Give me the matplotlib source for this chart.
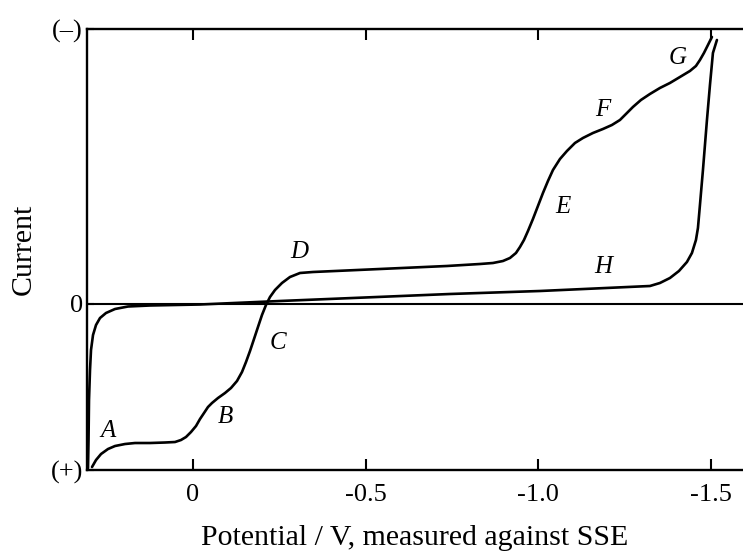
import matplotlib
matplotlib.use("Agg")
import matplotlib.pyplot as plt

# Sample polarogram (waves A..G)
sample_v = [0.2925, 0.2809, 0.2664, 0.2462, 0.2259, 0.1969, 0.1680, 0.1245, 0.0811, 0.0521,
            0.0348, 0.0203, 0.0058, -0.0087, -0.0203, -0.0319, -0.0434, -0.0550, -0.0724, -0.0927,
            -0.1100, -0.1274, -0.1419, -0.1535, -0.1651, -0.1767, -0.1882, -0.1998, -0.2114, -0.2230,
            -0.2375, -0.2577, -0.2809, -0.3099, -0.3475, -0.5416, -0.7356, -0.8312, -0.8688, -0.8978,
            -0.9180, -0.9354, -0.9470, -0.9586, -0.9702, -0.9846, -0.9991, -1.0136, -1.0281, -1.0426,
            -1.0629, -1.0831, -1.1063, -1.1294, -1.1584, -1.1874, -1.2134, -1.2366, -1.2569, -1.2742,
            -1.2974, -1.3235, -1.3524, -1.3814, -1.4104, -1.4393, -1.4567, -1.4683, -1.4799, -1.4915,
            -1.5030]
sample_i = [-1.63, -1.56, -1.50, -1.45, -1.42, -1.40, -1.39, -1.39, -1.385, -1.38,
            -1.36, -1.33, -1.28, -1.22, -1.15, -1.09, -1.03, -0.99, -0.94, -0.89,
            -0.84, -0.77, -0.68, -0.58, -0.47, -0.35, -0.23, -0.11, -0.01, 0.07,
            0.14, 0.21, 0.27, 0.31, 0.32, 0.35, 0.38, 0.40, 0.41, 0.43,
            0.46, 0.51, 0.57, 0.64, 0.73, 0.85, 0.98, 1.11, 1.23, 1.34,
            1.45, 1.53, 1.61, 1.66, 1.71, 1.75, 1.79, 1.84, 1.91, 1.97,
            2.04, 2.10, 2.16, 2.21, 2.27, 2.33, 2.38, 2.44, 2.51, 2.59,
            2.67]

# Blank / residual curve (H)
blank_v = [0.3041, 0.3026, 0.3012, 0.2983, 0.2954, 0.2896, 0.2809, 0.2693, 0.2520, 0.2259,
           0.1882, 0.1245, -0.0203, -0.2520, -0.7443, -1.0049, -1.3235, -1.3524, -1.3814, -1.4075,
           -1.4306, -1.4451, -1.4567, -1.4625, -1.4683, -1.4770, -1.4886, -1.4973, -1.5059, -1.5175]
blank_i = [-1.64, -1.36, -0.96, -0.66, -0.46, -0.31, -0.21, -0.14, -0.09, -0.05,
           -0.025, -0.015, -0.005, 0.03, 0.10, 0.13, 0.18, 0.21, 0.26, 0.33,
           0.42, 0.51, 0.64, 0.76, 0.99, 1.34, 1.84, 2.19, 2.51, 2.64]

x_ticks = [0, -0.5, -1.0, -1.5]
x_tick_labels = ["0", "-0.5", "-1.0", "-1.5"]
y_ticks = [-1.66, 0, 2.75]
y_tick_labels = ["(+)", "0", "(\u2013)"]

wave_labels = ["A", "B", "C", "D", "E", "F", "G", "H"]
wave_label_v = [0.247, -0.094, -0.247, -0.308, -1.070, -1.188, -1.405, -1.188]
wave_label_i = [-1.27, -1.13, -0.39, 0.52, 0.97, 1.94, 2.46, 0.37]

plt.rcParams["font.family"] = ["Liberation Serif", "DejaVu Serif"]

fig = plt.figure(figsize=(7.43, 5.54), dpi=100)
ax = fig.add_axes([0.1171, 0.1516, 0.8829, 0.7961])

ax.plot(sample_v, sample_i, color="black", lw=1.9, solid_capstyle="round", solid_joinstyle="round")
ax.plot(blank_v, blank_i, color="black", lw=1.9, solid_capstyle="round", solid_joinstyle="round")
ax.axhline(0, color="black", lw=1.5)

ax.set_xlim(0.307, -1.593)
ax.set_ylim(-1.66, 2.75)

for s in ["left", "top", "bottom"]:
    ax.spines[s].set_linewidth(1.7)
ax.spines["right"].set_visible(False)

ax.set_xticks(x_ticks)
ax.set_xticklabels(x_tick_labels, fontsize=19)
ax.tick_params(axis="x", direction="in", length=8, width=1.5, top=True, pad=10)
ax.set_yticks(y_ticks)
ax.set_yticklabels(y_tick_labels, fontsize=19)
ax.tick_params(axis="y", direction="in", length=5, width=1.5, pad=3)

ax.set_xlabel("Potential / V, measured against SSE", fontsize=21.5, labelpad=14)
ax.set_ylabel("Current", fontsize=21.5, labelpad=10)

for lab, v, i in zip(wave_labels, wave_label_v, wave_label_i):
    ax.text(v, i, lab, fontsize=18, style="italic", ha="center", va="center")

fig.savefig("out.png", dpi=100)
